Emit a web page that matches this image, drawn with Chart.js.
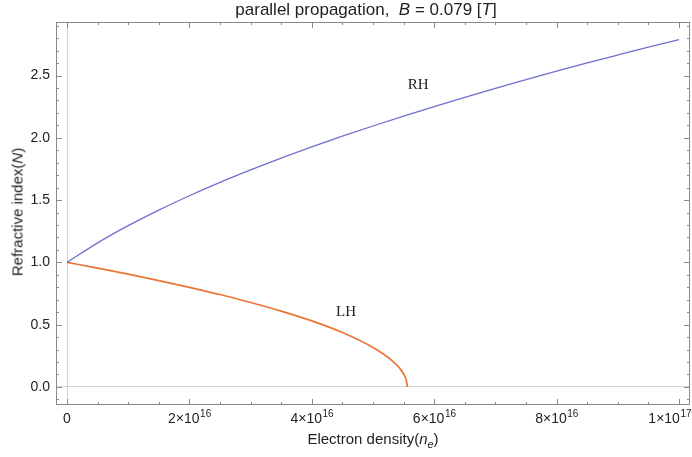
<!DOCTYPE html>
<html>
<head>
<meta charset="utf-8">
<script src="https://cdn.jsdelivr.net/npm/chart.js@4.4.1/dist/chart.umd.min.js"></script>
<style>
  body { margin: 0; background: #fff; }
  #wrap { position: relative; width: 692px; height: 457px; font-family: 'Liberation Sans', Arial, sans-serif; color: #222; }
  #title { position: absolute; left: 366px; top: 0px; transform: translateX(-50%); font-size: 17px; white-space: nowrap; }
  #xtitle { position: absolute; left: 373px; top: 430px; transform: translateX(-50%); font-size: 15px; white-space: nowrap; }
  #ytitle { position: absolute; left: 17px; top: 212px; transform: translate(-50%, -50%) rotate(-90deg); font-size: 15px; white-space: nowrap; }
  canvas { position: absolute; left: 0; top: 0; }
</style>
</head>
<body>
<div id="wrap">
  <canvas id="chart" width="692" height="457"></canvas>
  <div id="title">parallel propagation,&nbsp; <i>B</i> = 0.079 [<i>T</i>]</div>
  <div id="xtitle">Electron density(<i>n<sub style="font-size:11px">e</sub></i>)</div>
  <div id="ytitle">Refractive index(<i>N</i>)</div>
</div>
<script>
// electron density values (m^-3) and refractive index
const densityRH = [0, 5e15, 1e16, 1.5e16, 2e16, 2.5e16, 3e16, 3.5e16, 4e16, 4.5e16, 5e16,
  5.5e16, 6e16, 6.5e16, 7e16, 7.5e16, 8e16, 8.5e16, 9e16, 9.5e16, 1e17];
const indexRH = [1.000, 1.157, 1.295, 1.420, 1.535, 1.642, 1.742, 1.837, 1.927, 2.013, 2.095,
  2.175, 2.251, 2.325, 2.397, 2.467, 2.535, 2.601, 2.665, 2.728, 2.789];

const densityLH = [0, 5e15, 1e16, 1.5e16, 2e16, 2.5e16, 3e16, 3.5e16, 4e16, 4.5e16, 5e16,
  5.2e16, 5.3e16, 5.4e16, 5.45e16, 5.5e16, 5.52e16, 5.55e16, 5.56e16];
const indexLH = [1.000, 0.954, 0.906, 0.854, 0.800, 0.742, 0.678, 0.609, 0.530, 0.437, 0.317,
  0.254, 0.216, 0.170, 0.141, 0.104, 0.085, 0.042, 0.000];

const xTickValues = [0, 2e16, 4e16, 6e16, 8e16, 1e17];
const xTickBase = ['0', '2\u00d710', '4\u00d710', '6\u00d710', '8\u00d710', '1\u00d710'];
const xTickExp = ['', '16', '16', '16', '16', '17'];
const yTickValues = [0, 0.5, 1.0, 1.5, 2.0, 2.5];

const curveLabels = [
  { text: 'RH', x: 5.74e16, y: 2.42 },
  { text: 'LH', x: 4.56e16, y: 0.60 },
];

const toPoints = (xs, ys) => xs.map((x, i) => ({ x, y: ys[i] }));

// frame, inward ticks, x tick labels with exponents, curve labels
const framePlugin = {
  id: 'framePlugin',
  afterDraw(chart) {
    const { ctx, chartArea: a, scales: { x, y } } = chart;
    ctx.save();
    ctx.strokeStyle = '#8a8a8a';
    ctx.lineWidth = 1;
    ctx.strokeRect(a.left + 0.5, a.top + 0.5, a.right - a.left - 1, a.bottom - a.top - 1);
    ctx.beginPath();
    for (let i = 0; i <= 20; i++) {
      const px = Math.round(x.getPixelForValue(i * 5e15)) + 0.5;
      const len = i % 4 === 0 ? 6 : 3;
      ctx.moveTo(px, a.bottom); ctx.lineTo(px, a.bottom - len);
      ctx.moveTo(px, a.top); ctx.lineTo(px, a.top + len);
    }
    for (let i = -1; i <= 29; i++) {
      const py = Math.round(y.getPixelForValue(i / 10)) + 0.5;
      const len = i % 5 === 0 ? 6 : 3;
      ctx.moveTo(a.left, py); ctx.lineTo(a.left + len, py);
      ctx.moveTo(a.right, py); ctx.lineTo(a.right - len, py);
    }
    ctx.stroke();

    ctx.fillStyle = '#222';
    ctx.textBaseline = 'alphabetic';
    ctx.textAlign = 'left';
    const baseFont = '14px "Liberation Sans", Arial, sans-serif';
    const expFont = '10px "Liberation Sans", Arial, sans-serif';
    xTickValues.forEach((v, i) => {
      ctx.font = baseFont;
      const wb = ctx.measureText(xTickBase[i]).width;
      ctx.font = expFont;
      const we = ctx.measureText(xTickExp[i]).width;
      let left = x.getPixelForValue(v) - (wb + we) / 2;
      if (left + wb + we > 691) left = 691 - wb - we;
      ctx.font = baseFont;
      ctx.fillText(xTickBase[i], left, 423);
      ctx.font = expFont;
      ctx.fillText(xTickExp[i], left + wb + 0.5, 417);
    });

    ctx.font = '15px "Liberation Serif", "Times New Roman", serif';
    ctx.textAlign = 'center';
    ctx.textBaseline = 'middle';
    curveLabels.forEach(l => {
      ctx.fillText(l.text, x.getPixelForValue(l.x), y.getPixelForValue(l.y));
    });
    ctx.restore();
  }
};

new Chart(document.getElementById('chart'), {
  type: 'line',
  data: {
    datasets: [
      {
        label: 'RH',
        data: toPoints(densityRH, indexRH),
        borderColor: '#6f6fd2',
        borderWidth: 1.3,
        pointRadius: 0,
        cubicInterpolationMode: 'monotone',
      },
      {
        label: 'LH',
        data: toPoints(densityLH, indexLH),
        borderColor: '#ea7535',
        borderWidth: 1.7,
        pointRadius: 0,
        cubicInterpolationMode: 'monotone',
      },
    ],
  },
  options: {
    responsive: false,
    animation: false,
    events: [],
    layout: { padding: { top: 22, right: 2, bottom: 0, left: 0 } },
    plugins: { legend: { display: false }, title: { display: false }, tooltip: { enabled: false } },
    scales: {
      x: {
        type: 'linear',
        min: -1.8e15,
        max: 1.018e17,
        afterBuildTicks: s => { s.ticks = xTickValues.map(v => ({ value: v })); },
        afterFit: s => { s.height = 52; s.paddingLeft = 0; s.paddingRight = 0; },
        ticks: { display: false },
        border: { display: false },
        grid: {
          drawTicks: false,
          color: c => (c.tick && c.tick.value === 0 ? '#d4d4d4' : 'rgba(0,0,0,0)'),
        },
      },
      y: {
        type: 'linear',
        min: -0.145,
        max: 2.93,
        afterBuildTicks: s => { s.ticks = yTickValues.map(v => ({ value: v })); },
        afterFit: s => { s.width = 56; s.paddingTop = 0; s.paddingBottom = 0; },
        ticks: {
          padding: 6,
          color: '#222',
          font: { family: '"Liberation Sans", Arial, sans-serif', size: 14 },
          callback: v => v.toFixed(1),
        },
        border: { display: false },
        grid: {
          drawTicks: false,
          color: c => (c.tick && c.tick.value === 0 ? '#d4d4d4' : 'rgba(0,0,0,0)'),
        },
      },
    },
  },
  plugins: [framePlugin],
});
</script>
</body>
</html>
